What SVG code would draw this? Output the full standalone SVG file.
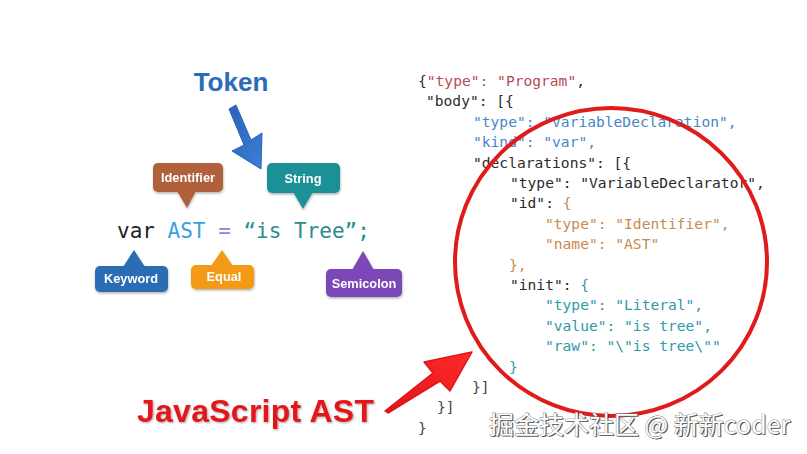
<svg xmlns="http://www.w3.org/2000/svg" width="807" height="454" viewBox="0 0 807 454">
<defs>
  <filter id="sh" x="-20%" y="-20%" width="140%" height="150%">
    <feDropShadow dx="0.5" dy="1.5" stdDeviation="1.2" flood-color="#000" flood-opacity="0.3"/>
  </filter>
  <filter id="tsh" x="-5%" y="-20%" width="110%" height="140%">
    <feDropShadow dx="1" dy="1" stdDeviation="0.8" flood-color="#000" flood-opacity="0.35"/>
  </filter>
  <linearGradient id="blueGrad" x1="0" y1="0" x2="1" y2="1">
    <stop offset="0" stop-color="#2a63b8"/>
    <stop offset="1" stop-color="#3b7fd4"/>
  </linearGradient>
  <linearGradient id="redGrad" x1="0" y1="1" x2="1" y2="0">
    <stop offset="0" stop-color="#e0141a"/>
    <stop offset="1" stop-color="#ff2a2a"/>
  </linearGradient>
</defs>
<style>
  .lbl { font-family: "Liberation Sans", Arial, sans-serif; font-weight: bold; font-size: 12.8px; fill: #fff; text-anchor: middle; }
  .code { font-family: "DejaVu Sans Mono", "Liberation Mono", monospace; font-size: 21px; }
  .json { font-family: "DejaVu Sans Mono", "Liberation Mono", monospace; font-size: 14.6px; fill: #2b2b2b; }
  .rose { fill: #b84a55; }
  .gray { fill: #777; }
  .blue { fill: #4a86c5; }
  .orng { fill: #c98a50; }
  .teal { fill: #2f9aa8; }
</style>
<rect width="807" height="454" fill="#fff"/>

<g id="token-label">
  <text x="231" y="91" font-family="Liberation Sans, Arial, sans-serif" font-weight="bold" font-size="26" fill="#2a6cb8" text-anchor="middle">Token</text>
</g>

<g id="code-line" class="code">
  <text x="117" y="238"><tspan fill="#222">var </tspan><tspan fill="#3a9fe0">AST </tspan><tspan fill="#8a86d6">= </tspan><tspan fill="#2b8c8f">“is Tree”;</tspan></text>
</g>

<g id="callout-identifier" filter="url(#sh)">
  <rect x="153" y="163" width="70" height="29" rx="5" fill="#b0603a"/>
  <polygon points="177,191 196,191 187,208" fill="#b0603a"/>
  <text class="lbl" x="188" y="182">Identifier</text>
</g>
<g id="callout-string" filter="url(#sh)">
  <rect x="267" y="163" width="73" height="30" rx="5" fill="#1f9097"/>
  <polygon points="293,192 313,192 303,209" fill="#1f9097"/>
  <text class="lbl" x="303" y="183">String</text>
</g>
<g id="callout-keyword" filter="url(#sh)">
  <rect x="95" y="266" width="73" height="26" rx="5" fill="#2a6db5"/>
  <polygon points="123,267 145,267 134,250" fill="#2a6db5"/>
  <text class="lbl" x="131" y="283">Keyword</text>
</g>
<g id="callout-equal" filter="url(#sh)">
  <rect x="191" y="265" width="63" height="24" rx="5" fill="#f39a16"/>
  <polygon points="211,266 233,266 222,250" fill="#f39a16"/>
  <text class="lbl" x="224" y="281">Equal</text>
</g>
<g id="callout-semicolon" filter="url(#sh)">
  <rect x="326" y="269" width="76" height="28" rx="5" fill="#7b46b6"/>
  <polygon points="352,270 374,270 363,251" fill="#7b46b6"/>
  <text class="lbl" x="364" y="288">Semicolon</text>
</g>

<g id="json-ast" class="json">
  <text x="418" y="86">{<tspan class="rose">"type"</tspan><tspan class="gray">: </tspan><tspan class="rose">"Program"</tspan>,</text>
  <text x="426" y="106.4">"body": [{</text>
  <text x="473" y="126.8" class="blue">"type": "VariableDeclaration",</text>
  <text x="473" y="147.2" class="blue">"kind": "var",</text>
  <text x="473" y="167.6">"declarations": [{</text>
  <text x="510" y="188">"type": "VariableDeclarator",</text>
  <text x="510" y="208.4">"id": <tspan class="orng">{</tspan></text>
  <text x="545" y="228.8" class="orng">"type": "Identifier",</text>
  <text x="545" y="249.2" class="orng">"name": "AST"</text>
  <text x="509" y="269.6" class="orng">},</text>
  <text x="510" y="290">"init": <tspan class="teal">{</tspan></text>
  <text x="545" y="310.4" class="teal">"type": "Literal",</text>
  <text x="545" y="330.8" class="teal">"value": "is tree",</text>
  <text x="545" y="351.2" class="teal">"raw": "\"is tree\""</text>
  <text x="509" y="371.6" class="teal">}</text>
  <text x="472" y="392" fill="#444">}]</text>
  <text x="437" y="412.4" fill="#444">}]</text>
  <text x="418" y="432.8" fill="#444">}</text>
</g>

<g id="highlight-circle">
  <ellipse cx="611" cy="262" rx="156" ry="154" fill="none" stroke="#e01b1b" stroke-width="4"/>
</g>

<g id="js-ast-label">
  <text x="137" y="422" font-family="Liberation Sans, Arial, sans-serif" font-weight="bold" font-size="32" fill="#e3171b" textLength="237" filter="url(#tsh)">JavaScript AST</text>
</g>

<g id="connectors">
  <polygon points="229,109 236,105 251,140 262,133 261,169 232,151 244,145" fill="url(#blueGrad)" stroke="#2a63b8" stroke-width="1" stroke-linejoin="round"/>
  <polygon points="385,411 433,373 424,362 472,352 450,391 440,381 388,413" fill="url(#redGrad)" stroke="#e0141a" stroke-width="1.5" stroke-linejoin="round"/>
</g>

<g id="watermark">
  <text x="489" y="434" font-family="Noto Sans CJK SC, sans-serif" font-size="25" fill="#555" transform="translate(1.2,1.2)">掘金技术社区 @ 新新coder</text>
  <text x="489" y="434" font-family="Noto Sans CJK SC, sans-serif" font-size="25" fill="#fff" stroke="#777" stroke-width="0.8" paint-order="stroke">掘金技术社区 @ 新新coder</text>
</g>
</svg>
